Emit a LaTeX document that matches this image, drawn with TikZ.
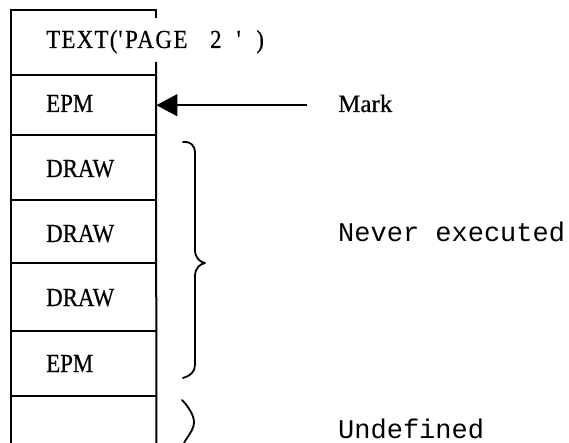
\documentclass[tikz,border=0pt]{standalone}
\usepackage{fontspec}
\setmainfont{Liberation Serif}[FakeBold=0.4]
\newfontfamily\cellfont{Liberation Serif}[FakeBold=0.4,FakeStretch=0.88]
\newfontfamily\labelmono{Liberation Mono}
\usetikzlibrary{arrows.meta}

\begin{document}
\begin{tikzpicture}[x=1pt,y=-1pt,
  frame/.style={line width=2pt},
  cell/.style={draw=none, inner sep=0pt, minimum width=145pt, anchor=north west},
  entry/.style={anchor=base west, inner sep=0pt, font=\cellfont\fontsize{26}{26}\selectfont},
  marktext/.style={anchor=base west, inner sep=0pt, font=\fontsize{25}{25}\selectfont},
  note/.style={anchor=base west, inner sep=0pt, font=\labelmono\fontsize{27}{27}\selectfont},
  pointer/.style={line width=1.6pt, -{Triangle[length=21pt,width=22pt]}},
  brace/.style={line width=1.8pt, line cap=round, line join=round}
]
\useasboundingbox (0,0) rectangle (569,443);

% stack cells
\node[cell, minimum height=65pt] (row1) at (11,10)  {};
\node[cell, minimum height=60pt] (row2) at (11,75)  {};
\node[cell, minimum height=65pt] (row3) at (11,135) {};
\node[cell, minimum height=63pt] (row4) at (11,200) {};
\node[cell, minimum height=68pt] (row5) at (11,263) {};
\node[cell, minimum height=65pt] (row6) at (11,331) {};
\node[cell, minimum height=47pt] (row7) at (11,396) {};

% outline of the stack (open at the bottom, right side broken behind the first entry)
\draw[frame] (row7.south west) -- (row1.north west) -- (row1.north east) -- ++(0,8);
\draw[frame] (156,62) -- (row7.south east);
\foreach \r in {row2,row3,row4,row5,row6,row7}
  \draw[frame] (\r.north west) -- (\r.north east);

% entries
\node[entry] (t1) at (46,48)
  {{\addfontfeature{LetterSpace=5}TEXT(}\kern1pt\textquotesingle\kern2pt
   {\addfontfeature{LetterSpace=6}PAGE}\ \hspace{17pt}2\kern15pt\textquotesingle\kern15pt)};
\node[entry] (t2) at (46,112) {EPM};
\node[entry] (t3) at (46,177) {DRAW};
\node[entry] (t4) at (46,242) {DRAW};
\node[entry] (t5) at (46,306) {DRAW};
\node[entry] (t6) at (46,372) {EPM};

% labels
\node[marktext] (mark)  at (338,112) {Mark};
\node[note]     (never) at (338,242) {Never executed};
\node[note]     (undef) at (338,438) {Undefined};

% mark pointer
\draw[pointer, shorten <=31pt] (mark.west |- row2.east) -- (row2.east);

% large brace
\draw[brace] (183,142) .. controls (190,141) and (195,145) .. (195,153)
  -- (195,250) .. controls (195,258) and (200,262) .. (205,263)
  .. controls (200,264) and (195,268) .. (195,276)
  -- (195,365) .. controls (195,372) and (190,376) .. (183,378);

% small brace
\draw[brace] (182,400) .. controls (186,404) and (194,414) .. (194,422)
  .. controls (194,430) and (187,437) .. (184,443);
\end{tikzpicture}
\end{document}
